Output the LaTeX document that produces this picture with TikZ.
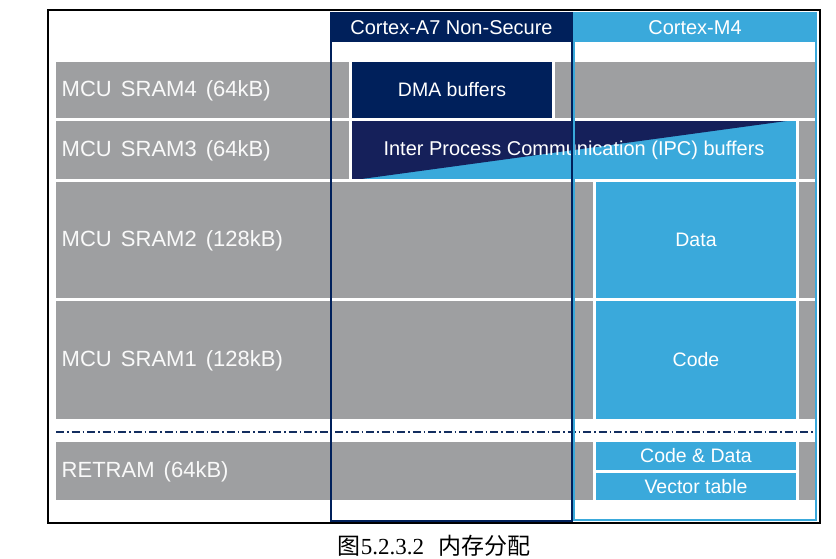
\documentclass[tikz,border=0pt]{standalone}
\usepackage{fontspec}
\setmainfont{Liberation Sans}
\newfontfamily\labelfont{Liberation Sans}[WordSpace=1.5]
\newfontfamily\cjk{Noto Sans CJK SC}
\newfontfamily\capserif{Liberation Serif}
\usetikzlibrary{positioning}
\definecolor{a7navy}{HTML}{00205B}
\definecolor{ipcnavy}{HTML}{15205A}
\definecolor{m4blue}{HTML}{3AA9DB}
\definecolor{memgray}{HTML}{9E9FA1}

\begin{document}
\begin{tikzpicture}[
    x=1pt, y=-1pt,
    row/.style={rectangle, fill=memgray, draw=white, line width=3pt, outer sep=0pt, inner sep=0pt, minimum width=762pt},
    rowlabel/.style={anchor=west, inner sep=0pt, text=white!95!gray, font=\labelfont\fontsize{22}{26}\selectfont},
    membox/.style={rectangle, draw=white, line width=3pt, outer sep=0pt, inner sep=0pt, minimum width=203pt, text=white, font=\fontsize{19.5}{23}\selectfont},
    frame/.style={rectangle, line width=1.5pt, outer sep=0pt, inner sep=0pt},
    head/.style={rectangle, anchor=north, minimum height=29pt, inner sep=0pt, text=white, font=\fontsize{20}{24}\selectfont},
    sepline/.style={a7navy!85!gray, line width=1.2pt, dash pattern=on 8pt off 3pt on 1.5pt off 3pt}
]
    \useasboundingbox (0,0) rectangle (836,559);

    % outer border
    \node[frame, draw=black, line width=1.3pt, minimum width=772pt, minimum height=513pt] (page) at (434,266.5) {};

    % memory rows
    \node[row, minimum height=59pt] (sram4) at (435.5,90) {};
    \node[row, minimum height=61pt, below=0pt of sram4] (sram3) {};
    \node[row, minimum height=119pt, below=0pt of sram3] (sram2) {};
    \node[row, minimum height=121pt, below=0pt of sram2] (sram1) {};
    \node[row, minimum height=61pt, below=20pt of sram1] (retram) {};

    \node[rowlabel] (l4) at ([xshift=7pt,yshift=-1pt]sram4.west) {MCU SRAM4 (64kB)};
    \node[rowlabel] (l3) at ([xshift=7pt,yshift=-1pt]sram3.west) {MCU SRAM3 (64kB)};
    \node[rowlabel] (l2) at ([xshift=7pt,yshift=-1pt]sram2.west) {MCU SRAM2 (128kB)};
    \node[rowlabel] (l1) at ([xshift=7pt,yshift=-1pt]sram1.west) {MCU SRAM1 (128kB)};
    \node[rowlabel] (lr) at ([xshift=7pt,yshift=-1pt]retram.west) {RETRAM (64kB)};

    % buffers
    \node[membox, fill=a7navy, minimum height=59pt] (dma) at (452,90) {DMA buffers};
    \node[membox, fill=m4blue, minimum width=447pt, minimum height=61pt, font=\fontsize{20}{24}\selectfont,
        path picture={\fill[ipcnavy] (path picture bounding box.north west) -- (path picture bounding box.north east)
            -- (path picture bounding box.south west) -- cycle;}] (ipc) at (574,150) {Inter Process Communication (IPC) buffers};
    \node[membox, fill=m4blue, minimum height=119pt] (data) at (696,240) {Data};
    \node[membox, fill=m4blue, minimum height=121pt, below=0pt of data] (code) {Code};
    \node[membox, fill=m4blue, minimum height=31pt] (codedata) at (696,456) {Code \& Data};
    \node[membox, fill=m4blue, minimum height=30pt, below=0pt of codedata] (vectors) {Vector table};

    % SRAM / RETRAM boundary
    \coordinate (sepl) at (56,432);
    \coordinate (sepr) at (815,432);
    \draw[sepline] (sepl) -- (sepr);

    % core frames
    \node[frame, draw=a7navy, minimum width=241pt, minimum height=508pt] (a7) at (451.5,267) {};
    \node[frame, draw=m4blue, minimum width=242pt, minimum height=507pt] (m4) at (695,266.5) {};
    \node[head, fill=a7navy, minimum width=243pt] (a7head) at (a7.north) {Cortex-A7 Non-Secure};
    \node[head, fill=m4blue, minimum width=243pt] (m4head) at (m4.north) {Cortex-M4};

    % caption
    \node[font=\fontsize{23}{27}\selectfont, inner sep=0pt] (caption) at (434,546) {{\cjk 图}{\capserif 5.2.3.2}\hspace{0.6em}{\cjk 内存分配}};
\end{tikzpicture}
\end{document}
